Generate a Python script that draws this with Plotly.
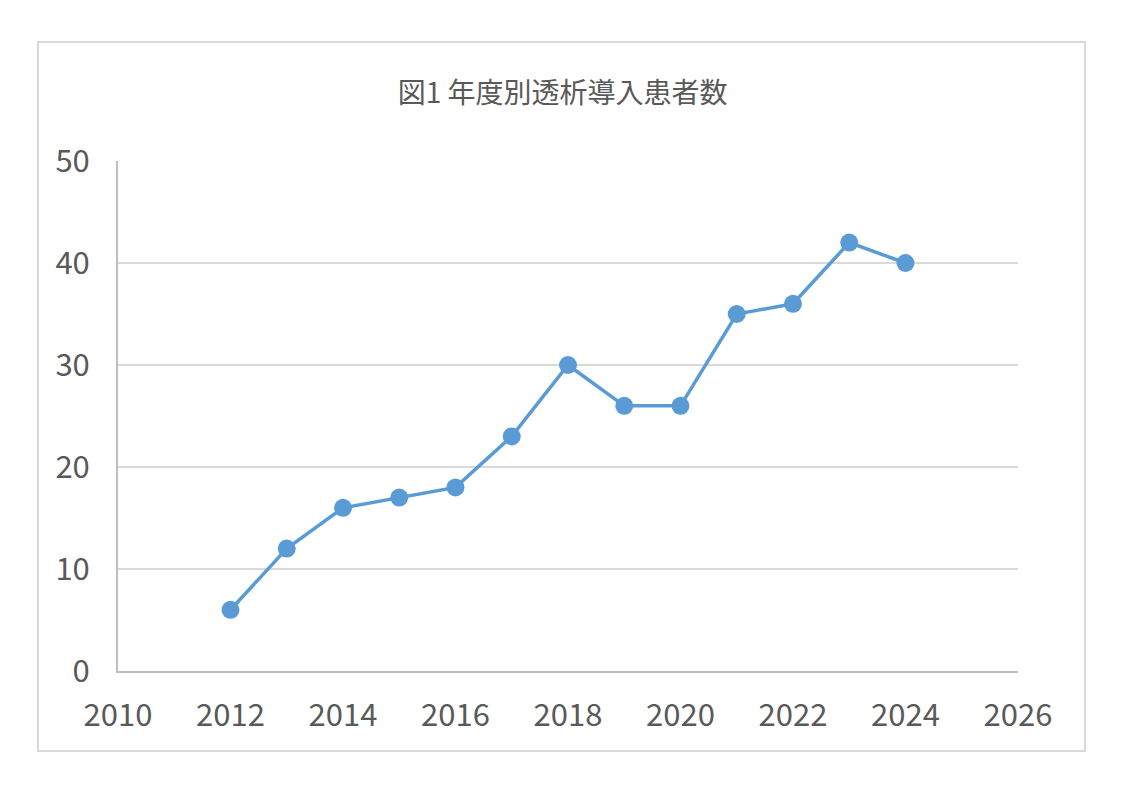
import plotly.graph_objects as go

years = [2012, 2013, 2014, 2015, 2016, 2017, 2018, 2019, 2020, 2021, 2022, 2023, 2024]
patients = [6, 12, 16, 17, 18, 23, 30, 26, 26, 35, 36, 42, 40]
x_ticks = [2010, 2012, 2014, 2016, 2018, 2020, 2022, 2024, 2026]
y_ticks = [0, 10, 20, 30, 40, 50]

FONT = "Noto Sans CJK JP"
GREY = "#595959"

fig = go.Figure()
fig.add_trace(go.Scatter(
    x=years, y=patients,
    mode="lines+markers",
    line=dict(color="#5b9bd5", width=3.5),
    marker=dict(color="#5b9bd5", size=18),
    showlegend=False,
))

# ページの余白(8px)分を差し引いた配置
fig.update_layout(
    width=1123, height=794,
    margin=dict(l=110, r=113, t=153, b=131),
    paper_bgcolor="white", plot_bgcolor="white",
    font=dict(family=FONT, color=GREY),
    title=dict(
        text="図1 年度別透析導入患者数",
        x=0.494, xref="paper", xanchor="center",
        y=1 - 85 / 794, yref="container", yanchor="middle",
        font=dict(size=28, color=GREY, family=FONT),
    ),
    shapes=[dict(
        type="rect", xref="paper", yref="paper",
        x0=-0.0889, x1=1.0744, y0=-0.1569, y1=1.2333,
        line=dict(color="#d9d9d9", width=2), layer="below",
    )],
)

fig.update_xaxes(
    range=[2010, 2026], tickvals=x_ticks,
    showgrid=False, zeroline=False,
    showline=True, linecolor="#bfbfbf", linewidth=2,
    ticks="", ticklen=0, tickfont=dict(size=31, color=GREY, family=FONT),
    ticklabelstandoff=16,
)
fig.update_yaxes(
    range=[0, 50], tickvals=y_ticks,
    showgrid=True, gridcolor="#d9d9d9", gridwidth=2,
    zeroline=False,
    showline=True, linecolor="#bfbfbf", linewidth=2,
    ticks="", ticklen=0, tickfont=dict(size=31, color=GREY, family=FONT),
    ticklabelstandoff=20,
)

fig.write_html("out.html")
